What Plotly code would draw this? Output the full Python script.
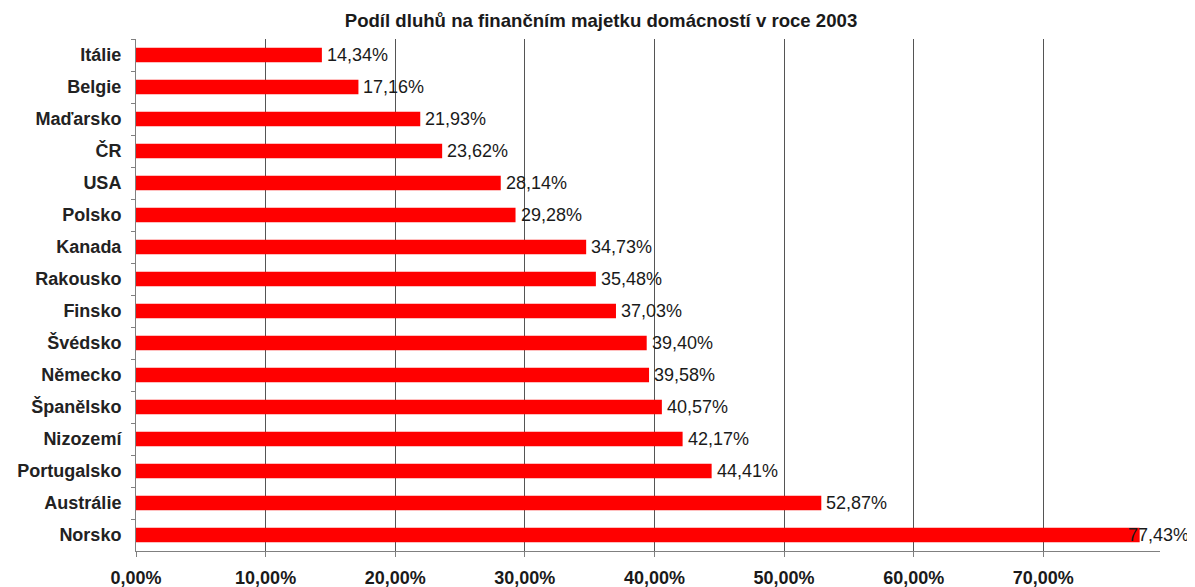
import plotly.graph_objects as go

countries = ["Itálie", "Belgie", "Maďarsko", "ČR", "USA", "Polsko", "Kanada", "Rakousko",
             "Finsko", "Švédsko", "Německo", "Španělsko", "Nizozemí", "Portugalsko",
             "Austrálie", "Norsko"]
values = [14.34, 17.16, 21.93, 23.62, 28.14, 29.28, 34.73, 35.48,
          37.03, 39.40, 39.58, 40.57, 42.17, 44.41, 52.87, 77.43]
x_ticks = [0, 10, 20, 30, 40, 50, 60, 70]
x_tick_labels = [f"{v:.2f}%".replace(".", ",") for v in x_ticks]
value_labels = [f"{v:.2f}%".replace(".", ",") for v in values]

title_text = "Podíl dluhů na finančním majetku domácností v roce 2003"
x_max = 79
FONT = "Liberation Sans, Arial, sans-serif"

# the page body adds an 8px offset, so the figure is sized to fit the remaining window
W, H = 1187, 579

fig = go.Figure(go.Bar(
    x=values, y=countries, orientation="h",
    marker=dict(color="#FF0000", line=dict(width=0)),
    width=0.45,
    hoverinfo="x+y",
))

# value labels: placed just after the bar end; pulled inward when they would leave the chart
for c, v, t in zip(countries, values, value_labels):
    shift = 3 if v < x_max - 5 else -14
    fig.add_annotation(x=v, y=c, text=t, showarrow=False, xanchor="left", yanchor="middle",
                       xshift=shift, font=dict(family=FONT, size=18, color="#1a1a1a"))

fig.update_layout(
    width=W, height=H,
    margin=dict(l=128, r=35, t=31, b=36),
    paper_bgcolor="white", plot_bgcolor="white",
    showlegend=False,
    title=dict(text="<b>" + title_text + "</b>", x=593 / W, xref="container", xanchor="center",
               y=1 - 12 / H, yref="container", yanchor="middle",
               font=dict(family=FONT, size=18.6, color="#1a1a1a")),
    xaxis=dict(range=[0, x_max], tickvals=x_ticks, ticktext=x_tick_labels,
               showgrid=True, gridcolor="#555555", gridwidth=1,
               showline=True, linecolor="#808080", linewidth=1,
               ticks="outside", ticklen=5, tickcolor="#808080",
               zeroline=False, automargin=False, ticklabelstandoff=5,
               tickfont=dict(family=FONT, size=18, color="#1a1a1a", weight="bold")),
    yaxis=dict(autorange="reversed", type="category",
               showline=True, linecolor="#808080", linewidth=1,
               ticks="outside", ticklen=4, tickcolor="#808080", tickson="boundaries",
               showgrid=False, automargin=False, ticklabelstandoff=10,
               tickfont=dict(family=FONT, size=18, color="#222222", weight="bold")),
)

fig.write_html("out.html")
